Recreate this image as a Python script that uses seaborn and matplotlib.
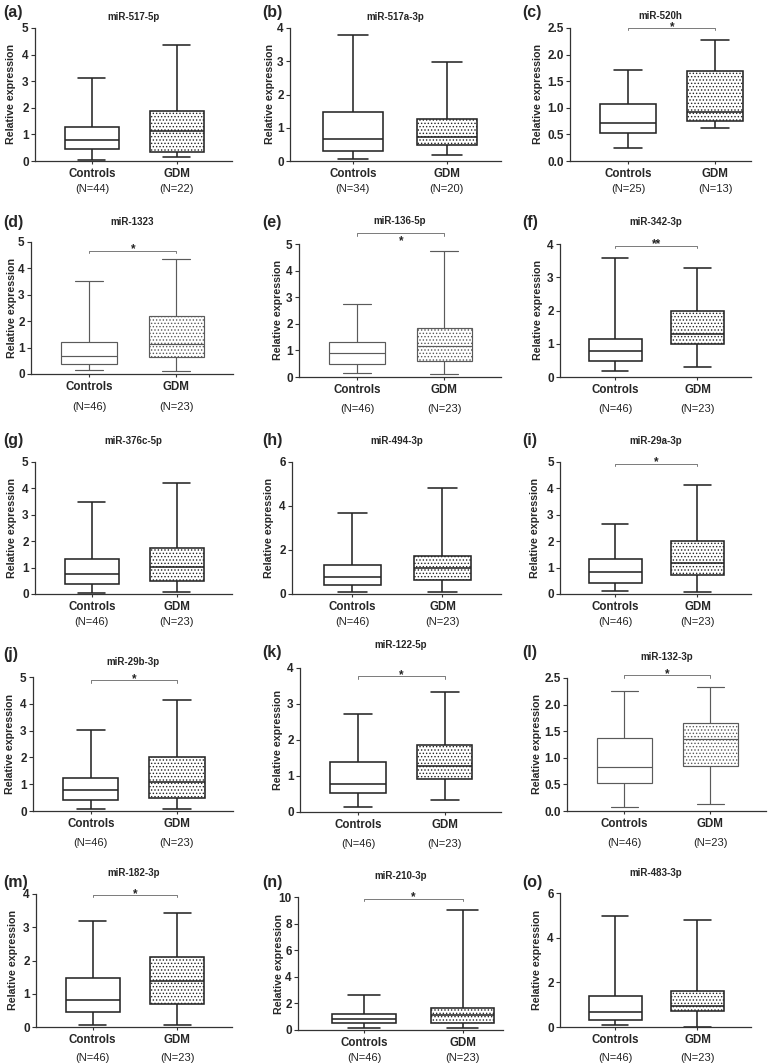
import matplotlib
matplotlib.use("Agg")
import matplotlib.pyplot as plt
import numpy as np
import pandas as pd
import seaborn as sns

# ---------------- data ----------------
panel_letters = list("abcdefghijklmno")
titles = ["miR-517-5p", "miR-517a-3p", "miR-520h",
          "miR-1323", "miR-136-5p", "miR-342-3p",
          "miR-376c-5p", "miR-494-3p", "miR-29a-3p",
          "miR-29b-3p", "miR-122-5p", "miR-132-3p",
          "miR-182-3p", "miR-210-3p", "miR-483-3p"]
groups = ["Controls", "GDM"]
# five-number summaries: min, Q1, median, Q3, max
controls = [[0.05, 0.46, 0.79, 1.29, 3.12],
            [0.07, 0.29, 0.65, 1.46, 3.80],
            [0.245, 0.52, 0.71, 1.08, 1.71],
            [0.14, 0.39, 0.67, 1.23, 3.54],
            [0.14, 0.49, 0.89, 1.30, 2.76],
            [0.18, 0.47, 0.79, 1.15, 3.57],
            [0.04, 0.38, 0.75, 1.33, 3.49],
            [0.09, 0.42, 0.77, 1.30, 3.70],
            [0.10, 0.41, 0.85, 1.33, 2.64],
            [0.07, 0.42, 0.79, 1.25, 3.04],
            [0.14, 0.54, 0.79, 1.38, 2.72],
            [0.08, 0.52, 0.82, 1.38, 2.25],
            [0.05, 0.45, 0.82, 1.47, 3.20],
            [0.13, 0.55, 0.86, 1.23, 2.65],
            [0.08, 0.30, 0.68, 1.40, 4.98]]
gdm = [[0.15, 0.35, 1.13, 1.88, 4.37],
       [0.18, 0.48, 0.72, 1.26, 2.97],
       [0.62, 0.75, 0.93, 1.70, 2.27],
       [0.13, 0.64, 1.13, 2.20, 4.37],
       [0.11, 0.60, 1.18, 1.83, 4.75],
       [0.29, 1.00, 1.28, 1.97, 3.27],
       [0.06, 0.50, 1.04, 1.76, 4.20],
       [0.08, 0.62, 1.18, 1.73, 4.83],
       [0.09, 0.73, 1.17, 2.02, 4.12],
       [0.06, 0.50, 1.10, 2.03, 4.14],
       [0.32, 0.92, 1.28, 1.86, 3.32],
       [0.13, 0.84, 1.36, 1.65, 2.33],
       [0.07, 0.70, 1.37, 2.12, 3.44],
       [0.18, 0.55, 1.11, 1.64, 9.00],
       [0.02, 0.72, 0.95, 1.63, 4.77]]
n_controls = [44, 34, 25, 46, 46, 46, 46, 46, 46, 46, 46, 46, 46, 46, 46]
n_gdm = [22, 20, 13, 23, 23, 23, 23, 23, 23, 23, 23, 23, 23, 23, 23]
stars = ["", "", "*", "*", "*", "**", "", "", "*", "*", "*", "*", "*", "*", ""]
y_max = [5, 4, 2.5, 5, 5, 4, 5, 6, 5, 5, 4, 2.5, 4, 10, 6]
y_step = [1, 1, 0.5, 1, 1, 1, 1, 2, 1, 1, 1, 0.5, 1, 2, 2]

# ---------------- layout (pixels) ----------------
W, H = 772, 1063
# left, top, right, bottom of each axes
rects = [(35, 28, 232, 161), (290, 28, 501, 161), (570, 28, 751, 161),
         (31, 242, 233, 374), (299, 244, 501, 377), (560, 244, 751, 377),
         (35, 462, 232, 594), (292, 462, 501, 594), (560, 462, 751, 594),
         (33, 677, 233, 811), (300, 668, 501, 812), (567, 678, 766, 811),
         (36, 894, 232, 1027), (298, 897, 503, 1030), (560, 893, 751, 1027)]
xright = [1.65, 1.58, 1.41, 1.65, 1.65, 1.65, 1.65, 1.65, 1.65,
          1.65, 1.65, 1.65, 1.65, 1.41, 1.65]
title_gap = [11, 11, 12, 20, 23, 22, 21, 21, 21, 15, 23, 21, 21, 21, 20]
label_pos = [(3, 12), (262, 12), (522, 12),
             (3, 222), (262, 223), (522, 222),
             (3, 441), (262, 441), (522, 441),
             (3, 655), (262, 653), (522, 653),
             (3, 882), (262, 883), (522, 882)]
ylabel_off = [24, 20, 32, 19, 21, 22, 23, 23, 25, 23, 22, 30, 23, 19, 23]
bracket_y = [None, None, 2.5, 4.66, 5.4, 3.95, None, None, 4.93,
             4.88, 3.77, 2.55, 3.97, 9.87, None]
star_below = [False] * 15
star_below[4] = True
n_gap = [20, 20, 20, 24, 23, 23, 20, 20, 20, 23, 23, 23, 22, 20, 22]
light = [False, False, False, True, True, False, False, False, False,
         False, False, True, False, False, False]

sns.set_style("ticks")
plt.rcParams["font.family"] = ["Liberation Sans", "DejaVu Sans"]
plt.rcParams["hatch.linewidth"] = 0.6

fig = plt.figure(figsize=(W / 100, H / 100), dpi=100)

for i in range(15):
    l, t, r, b = rects[i]
    ax = fig.add_axes([l / W, 1 - b / H, (r - l) / W, (b - t) / H])
    df = pd.DataFrame({"group": [groups[0]] * 5 + [groups[1]] * 5,
                       "value": controls[i] + gdm[i]})
    lc = "#5a5a5a" if light[i] else "#262626"
    lw = 0.85 if light[i] else 1.15
    sns.boxplot(data=df, x="group", y="value", order=groups, whis=(0, 100),
                width=0.64, color="white", linecolor=lc, linewidth=lw,
                showfliers=False, ax=ax)
    if len(ax.patches) >= 2:
        p = ax.patches[1]
        p.set_hatch(".....")
        try:
            p.set_hatchcolor("#6a6a6a")
        except AttributeError:
            pass
    ax.set_xlim(-0.67, xright[i])
    ax.set_ylim(0, y_max[i])
    ticks = np.arange(0, y_max[i] + 1e-9, y_step[i])
    ax.set_yticks(ticks)
    if y_step[i] < 1:
        ax.set_yticklabels([f"{v:.1f}" for v in ticks])
    else:
        ax.set_yticklabels([f"{v:g}" for v in ticks])
    ax.set_xlabel("")
    ax.set_ylabel("Relative expression", fontsize=7.7, fontweight="bold")
    ax.yaxis.label.set_va("center")
    ax.yaxis.set_label_coords(-ylabel_off[i] / (r - l), 0.5)
    for s in ["top", "right"]:
        ax.spines[s].set_visible(False)
    for s in ["left", "bottom"]:
        ax.spines[s].set_linewidth(0.9)
        ax.spines[s].set_color("#333333")
    ax.tick_params(axis="y", length=3, width=0.8, pad=1.5, labelsize=8.5,
                   color="#333333")
    ax.tick_params(axis="x", length=2, width=0.8, pad=3, labelsize=8.3,
                   color="#333333")
    for lbl in ax.get_yticklabels() + ax.get_xticklabels():
        lbl.set_fontweight("bold")
    # N labels
    for k, n in enumerate([n_controls[i], n_gdm[i]]):
        ax.annotate(f"(N={n})", xy=(k, 0), xycoords=("data", "axes fraction"),
                    xytext=(0, -n_gap[i]), textcoords="offset points",
                    ha="center", va="center", fontsize=8, color="#222222",
                    annotation_clip=False)
    # title
    ax.annotate(titles[i], xy=(0.5, 1), xycoords="axes fraction",
                xytext=(0, title_gap[i] * 0.72), textcoords="offset points",
                ha="center", va="center", fontsize=7, fontweight="bold")
    # panel label
    lx, ly = label_pos[i]
    fig.text(lx / W, 1 - ly / H, f"({panel_letters[i]})", ha="left",
             va="center", fontsize=11.5, fontweight="bold")
    # significance bracket
    if bracket_y[i] is not None:
        by = bracket_y[i]
        d = y_max[i] * 0.018
        ax.plot([0, 0, 1, 1], [by - d, by, by, by - d], color="#7a7a7a",
                lw=0.7, clip_on=False)
        off = -7.5 if star_below[i] else -1.2
        ax.annotate(stars[i], xy=(0.5, by), xycoords="data",
                    xytext=(0, off), textcoords="offset points",
                    ha="center", va="baseline", fontsize=8.5,
                    fontweight="bold", color="#222222",
                    annotation_clip=False)

fig.savefig("out.png", dpi=100)
